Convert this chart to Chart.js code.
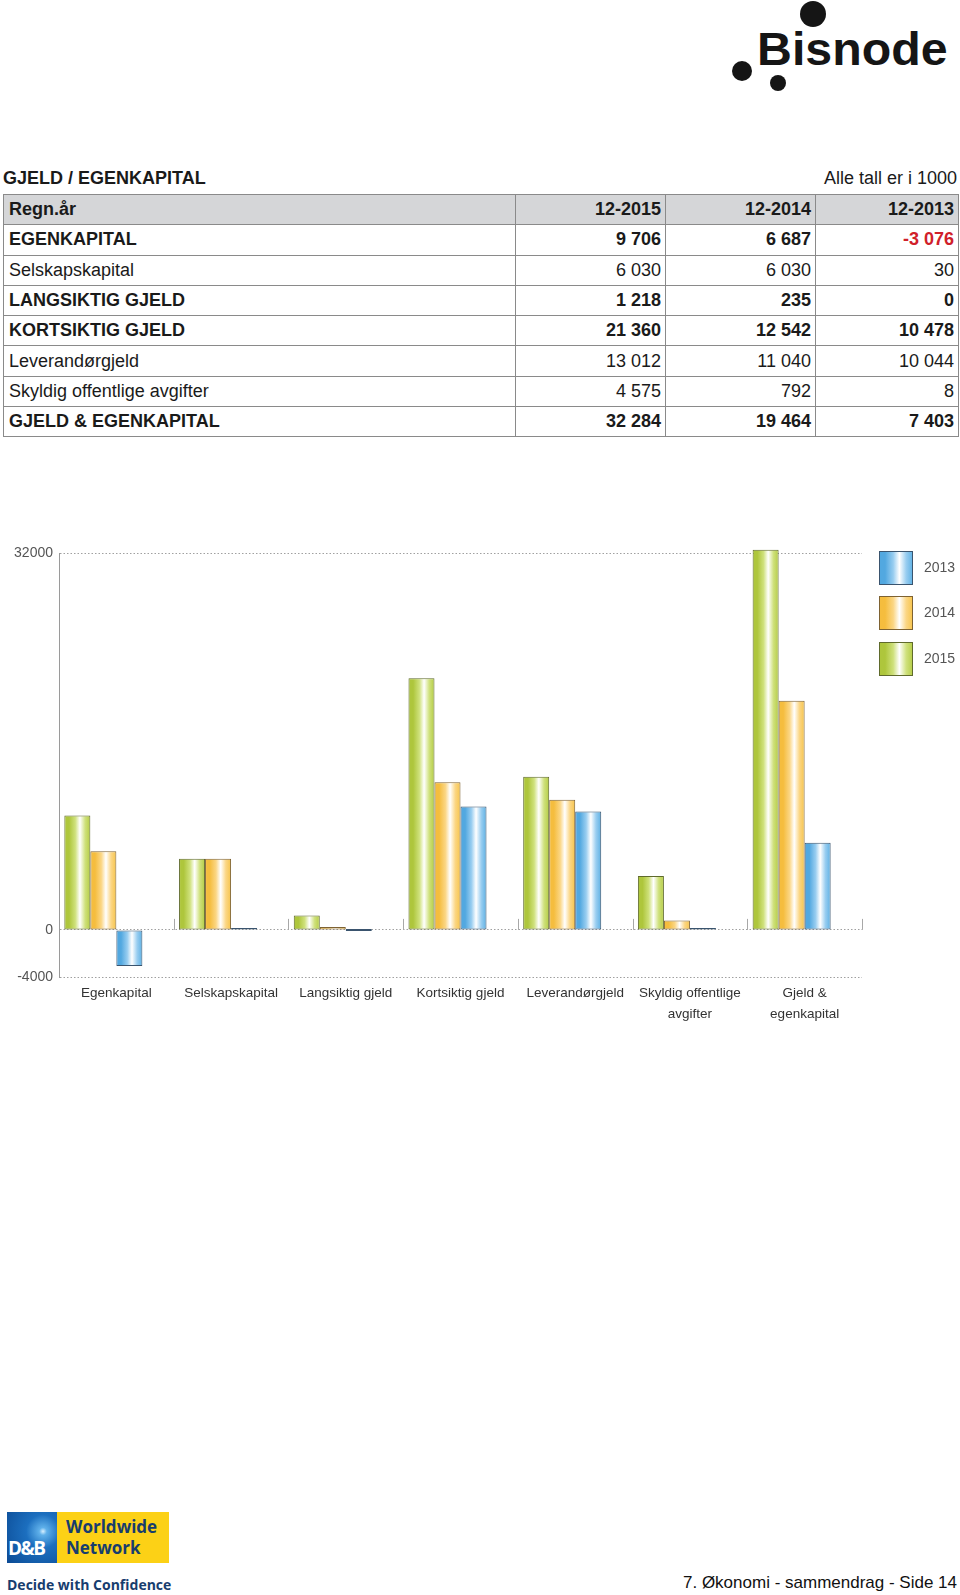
<!DOCTYPE html>
<html lang="no">
<head>
<meta charset="utf-8">
<title>Gjeld / Egenkapital</title>
<script src="https://cdn.jsdelivr.net/npm/chart.js@4.4.1/dist/chart.umd.min.js"></script>
<style>
  html, body { margin: 0; padding: 0; background: #fff; }
  body { width: 960px; height: 1595px; position: relative; overflow: hidden;
         font-family: "Liberation Sans", Arial, sans-serif; color: #1a1a1a; }
  .abs { position: absolute; }
  .dot { position: absolute; background: #151515; border-radius: 50%; }
  .brand { left: 757px; top: 26px; font-size: 46px; font-weight: bold; line-height: 46px;
           letter-spacing: 0; color: #151515; transform: scaleX(1.05); transform-origin: left top; }
  .title { left: 3px; top: 167px; font-size: 18px; font-weight: bold; line-height: 22px; }
  .unit { right: 3px; top: 167px; font-size: 18px; line-height: 22px; }
  table { position: absolute; left: 3px; top: 194px; width: 955px; border-collapse: collapse;
          font-size: 18px; table-layout: fixed; }
  td { border: 1px solid #8a8a8a; height: 29.3px; padding: 0 4px 0 5px; white-space: nowrap; }
  td.n { text-align: right; }
  tr.head td { background: #d5d6d8; font-weight: bold; }
  tr.b td { font-weight: bold; }
  .neg { color: #d0202a; }
  #wrap { position: absolute; left: 0; top: 520px; width: 960px; height: 520px; }
  .db-blue { left: 7px; top: 1512px; width: 50px; height: 51px;
             background: radial-gradient(circle at 72% 38%, #d8f0ff 0, #5fb0ea 8%, #1c6fbf 35%, #0b4a94 100%); }
  .db-blue span { position: absolute; left: 1px; bottom: 2px; color: #fff; font: bold 19px "Open Sans", sans-serif;
                  letter-spacing: -1.5px; }
  .db-yel { left: 57px; top: 1512px; width: 112px; height: 51px; background: #fcd116; }
  .db-yel div { position: absolute; left: 9px; color: #173d6e; font: bold 17px/20px "Open Sans", sans-serif; }
  .tagline { left: 7px; top: 1575px; color: #173d6e; font: bold 14px/20px "Open Sans", sans-serif; }
  .footer { right: 3px; top: 1572px; font-size: 17px; line-height: 22px; color: #111; }
</style>
</head>
<body>

<div class="dot" style="left:800px;top:1px;width:26px;height:26px"></div>
<div class="dot" style="left:732px;top:61px;width:20px;height:20px"></div>
<div class="dot" style="left:770px;top:75px;width:16px;height:16px"></div>
<div class="abs brand">Bisnode</div>

<div class="abs title">GJELD / EGENKAPITAL</div>
<div class="abs unit">Alle tall er i 1000</div>

<table>
  <colgroup><col style="width:512px"><col style="width:150px"><col style="width:150px"><col style="width:143px"></colgroup>
  <tr class="head"><td>Regn.år</td><td class="n">12-2015</td><td class="n">12-2014</td><td class="n">12-2013</td></tr>
  <tr class="b"><td>EGENKAPITAL</td><td class="n">9 706</td><td class="n">6 687</td><td class="n neg">-3 076</td></tr>
  <tr><td>Selskapskapital</td><td class="n">6 030</td><td class="n">6 030</td><td class="n">30</td></tr>
  <tr class="b"><td>LANGSIKTIG GJELD</td><td class="n">1 218</td><td class="n">235</td><td class="n">0</td></tr>
  <tr class="b"><td>KORTSIKTIG GJELD</td><td class="n">21 360</td><td class="n">12 542</td><td class="n">10 478</td></tr>
  <tr><td>Leverandørgjeld</td><td class="n">13 012</td><td class="n">11 040</td><td class="n">10 044</td></tr>
  <tr><td>Skyldig offentlige avgifter</td><td class="n">4 575</td><td class="n">792</td><td class="n">8</td></tr>
  <tr class="b"><td>GJELD &amp; EGENKAPITAL</td><td class="n">32 284</td><td class="n">19 464</td><td class="n">7 403</td></tr>
</table>

<div id="wrap"><canvas id="chart" width="960" height="520"></canvas></div>

<div class="abs db-blue"><span>D&amp;B</span></div>
<div class="abs db-yel"><div style="top:5px">Worldwide</div><div style="top:26px">Network</div></div>
<div class="abs tagline">Decide with Confidence</div>
<div class="abs footer">7. Økonomi - sammendrag - Side 14</div>

<script>
// ── Data ──────────────────────────────────────────────────
const categories = [
  'Egenkapital', 'Selskapskapital', 'Langsiktig gjeld', 'Kortsiktig gjeld',
  'Leverandørgjeld', ['Skyldig offentlige', 'avgifter'], ['Gjeld &', 'egenkapital'],
];
const seriesNames = ['2015', '2014', '2013'];
const values2015 = [9706, 6030, 1218, 21360, 13012, 4575, 32284];
const values2014 = [6687, 6030, 235, 12542, 11040, 792, 19464];
const values2013 = [-3076, 30, 0, 10478, 10044, 8, 7403];
const yTickValues = [-4000, 0, 32000];

// ── Styles ────────────────────────────────────────────────
const palette = [
  { edge: '#aec63c', mid: '#cfe17c', edge2: '#b4cc44', border: '#5f6a2c' },  // 2015 green
  { edge: '#f5bd3e', mid: '#fbd684', edge2: '#f7c44a', border: '#7e6232' },  // 2014 orange
  { edge: '#52a8e0', mid: '#98cdf0', edge2: '#5cb0e4', border: '#3a546e' },  // 2013 blue
];
const FONT = '"Liberation Sans", Arial, sans-serif';

function barGradient(ctx, left, width, p) {
  const g = ctx.createLinearGradient(left, 0, left + width, 0);
  g.addColorStop(0, p.edge);
  g.addColorStop(0.18, p.edge);
  g.addColorStop(0.42, p.mid);
  g.addColorStop(0.6, '#ffffff');
  g.addColorStop(0.8, p.mid);
  g.addColorStop(1, p.edge2);
  return g;
}

// Horizontal shading on each bar, built from the bar's own position
const shadePlugin = {
  id: 'shade',
  beforeDatasetsDraw(chart) {
    const ctx = chart.ctx;
    chart.data.datasets.forEach((ds, i) => {
      if (!palette[i]) return;
      chart.getDatasetMeta(i).data.forEach(el => {
        const left = el.x - el.width / 2;
        el.options.backgroundColor = barGradient(ctx, left, el.width, palette[i]);
      });
    });
  },
};

// Small category separators on the zero line + legend on the right
const decorPlugin = {
  id: 'decor',
  afterDraw(chart) {
    const ctx = chart.ctx;
    const x = chart.scales.x;
    const y0 = chart.scales.y.getPixelForValue(0);
    const n = categories.length;
    ctx.save();
    ctx.strokeStyle = '#a8a8a8';
    ctx.lineWidth = 1;
    for (let i = 1; i <= n; i++) {
      const bx = Math.round(x.left + i * x.width / n) + 0.5;
      ctx.beginPath();
      ctx.moveTo(bx, y0);
      ctx.lineTo(bx, y0 - 11);
      ctx.stroke();
    }

    // legend: 2013, 2014, 2015 from top
    const boxX = 879, boxW = 34, rows = [31, 76, 122];
    [2, 1, 0].forEach((dsIndex, r) => {
      const p = palette[dsIndex];
      const top = rows[r];
      ctx.fillStyle = barGradient(ctx, boxX, boxW, p);
      ctx.fillRect(boxX, top, boxW, boxW);
      ctx.strokeStyle = p.border;
      ctx.strokeRect(boxX + 0.5, top + 0.5, boxW - 1, boxW - 1);
      ctx.fillStyle = '#555';
      ctx.font = '14px ' + FONT;
      ctx.textBaseline = 'middle';
      ctx.textAlign = 'left';
      ctx.fillText(chart.data.datasets[dsIndex].label, 924, top + boxW / 2);
    });
    ctx.restore();
  },
};

const series = [values2015, values2014, values2013];

new Chart(document.getElementById('chart'), {
  type: 'bar',
  data: {
    labels: categories,
    datasets: [
      ...series.map((vals, i) => ({
        label: seriesNames[i],
        data: vals,
        backgroundColor: (c) => palette[c.datasetIndex].edge,
        borderColor: palette[i].border,
        borderWidth: 1,
        borderSkipped: false,
        minBarLength: 2,
        clip: false,
      })),
      // empty slot keeps the three bars left of the category centre
      { label: '', data: categories.map(() => null), backgroundColor: 'transparent' },
    ],
  },
  options: {
    responsive: false,
    animation: false,
    layout: { padding: { top: 33, right: 98, left: 0, bottom: 0 } },
    datasets: { bar: { categoryPercentage: 0.907, barPercentage: 1 } },
    plugins: { legend: { display: false }, tooltip: { enabled: false } },
    scales: {
      x: {
        grid: { display: false, drawTicks: false },
        border: { display: false },
        ticks: {
          color: '#333',
          font: { family: FONT, size: 13.5, lineHeight: 1.55 },
          padding: 6,
          maxRotation: 0,
          autoSkip: false,
        },
        afterFit(scale) { scale.height = 63; },
      },
      y: {
        min: -4000,
        max: 32000,
        afterBuildTicks(scale) { scale.ticks = yTickValues.map(v => ({ value: v })); },
        grid: { color: '#a0a0a0', drawTicks: false, lineWidth: 1 },
        border: { display: true, color: '#9a9a9a', dash: [1.5, 2] },
        ticks: {
          color: '#555',
          font: { family: FONT, size: 14 },
          padding: 6,
          callback: (v) => String(v),
        },
        afterFit(scale) { scale.width = 59; },
      },
    },
  },
  plugins: [shadePlugin, decorPlugin],
});
</script>
</body>
</html>
